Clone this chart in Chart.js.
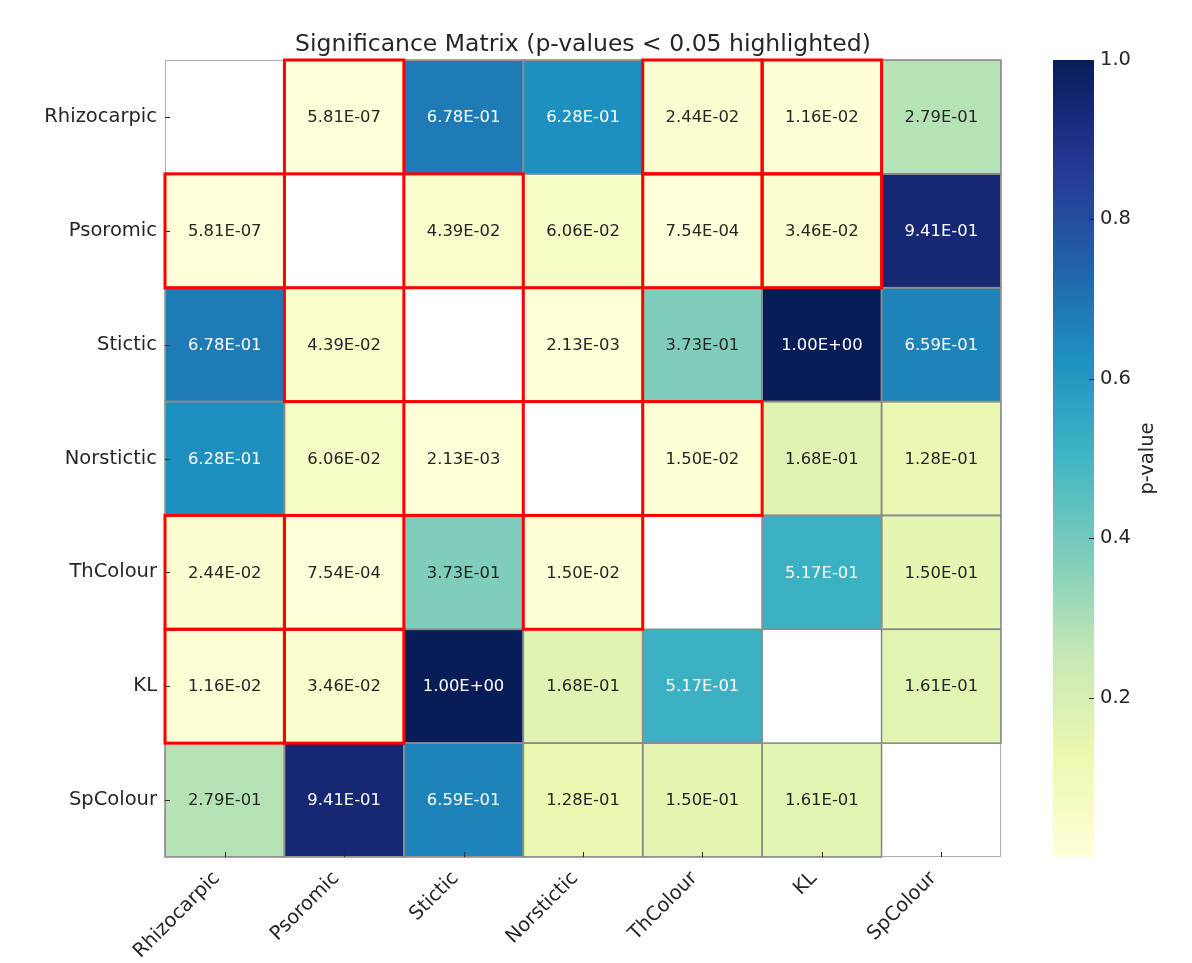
<!DOCTYPE html>
<html>
<head>
<meta charset="utf-8">
<script src="https://cdn.jsdelivr.net/npm/chart.js@4.4.1/dist/chart.umd.min.js"></script>
<style>
  html, body { margin: 0; padding: 0; background: #fff; }
  #wrap { position: relative; width: 1192px; height: 963px; }
  #heat { position: absolute; left: 0; top: 0; }
  #cbar { position: absolute; left: 1040px; top: 0; }
</style>
</head>
<body>
<div id="wrap">
  <canvas id="heat" width="1192" height="963"></canvas>
  <canvas id="cbar" width="152" height="963"></canvas>
</div>
<script>
// nama variabel / kategori
const labels = ["Rhizocarpic", "Psoromic", "Stictic", "Norstictic", "ThColour", "KL", "SpColour"];

// p-value tiap baris (null = diagonal, tidak digambar)
const pRhizocarpic = [null, 5.81e-7, 6.78e-1, 6.28e-1, 2.44e-2, 1.16e-2, 2.79e-1];
const pPsoromic    = [5.81e-7, null, 4.39e-2, 6.06e-2, 7.54e-4, 3.46e-2, 9.41e-1];
const pStictic     = [6.78e-1, 4.39e-2, null, 2.13e-3, 3.73e-1, 1.00e+0, 6.59e-1];
const pNorstictic  = [6.28e-1, 6.06e-2, 2.13e-3, null, 1.50e-2, 1.68e-1, 1.28e-1];
const pThColour    = [2.44e-2, 7.54e-4, 3.73e-1, 1.50e-2, null, 5.17e-1, 1.50e-1];
const pKL          = [1.16e-2, 3.46e-2, 1.00e+0, 1.68e-1, 5.17e-1, null, 1.61e-1];
const pSpColour    = [2.79e-1, 9.41e-1, 6.59e-1, 1.28e-1, 1.50e-1, 1.61e-1, null];

const matrix = [pRhizocarpic, pPsoromic, pStictic, pNorstictic, pThColour, pKL, pSpColour];

// tick colorbar
const cbTicks = [0.2, 0.4, 0.6, 0.8, 1.0];
const alpha = 0.05;
const titleText = "Significance Matrix (p-values < 0.05 highlighted)";

const FONT = "'DejaVu Sans', sans-serif";
const TEXT = "#262626";

// skala warna YlGnBu
const ylgnbu = ["#ffffd9", "#edf8b1", "#c7e9b4", "#7fcdbb", "#41b6c4", "#1d91c0", "#225ea8", "#253494", "#081d58"];

const allVals = matrix.flat().filter(v => v !== null);
const vmin = Math.min(...allVals);
const vmax = Math.max(...allVals);

const hexToRgb = (h) => [1, 3, 5].map(i => parseInt(h.substr(i, 2), 16));

const cmapRgb = (v) => {
  let t = (v - vmin) / (vmax - vmin);
  t = Math.max(0, Math.min(1, t));
  const pos = t * (ylgnbu.length - 1);
  const i = Math.min(Math.floor(pos), ylgnbu.length - 2);
  const f = pos - i;
  const a = hexToRgb(ylgnbu[i]), b = hexToRgb(ylgnbu[i + 1]);
  return a.map((c, k) => Math.round(c + (b[k] - c) * f));
};
const cmap = (v) => `rgb(${cmapRgb(v).join(",")})`;

// luminance untuk memilih warna teks
const luminance = (rgb) => {
  const lin = rgb.map(c => {
    c = c / 255;
    return c <= 0.03928 ? c / 12.92 : Math.pow((c + 0.055) / 1.055, 2.4);
  });
  return 0.2126 * lin[0] + 0.7152 * lin[1] + 0.0722 * lin[2];
};

const fmt = (v) => {
  const [m, e] = v.toExponential(2).split("e");
  const n = parseInt(e, 10);
  return m + "E" + (n < 0 ? "-" : "+") + String(Math.abs(n)).padStart(2, "0");
};

// satu dataset per baris, bar mengambang [r, r+1]
const datasets = matrix.map((row, r) => ({
  label: labels[r],
  data: row.map(v => (v === null ? null : [r, r + 1])),
  backgroundColor: row.map(v => (v === null ? "rgba(0,0,0,0)" : cmap(v))),
  borderWidth: 0,
  grouped: false,
  barPercentage: 1,
  categoryPercentage: 1,
}));

const heatDecor = {
  id: "heatDecor",
  afterDatasetsDraw(chart) {
    const ctx = chart.ctx;
    const area = chart.chartArea;
    const xs = chart.scales.x, ys = chart.scales.y;
    ctx.save();

    // bingkai luar
    ctx.strokeStyle = "#b0b0b0";
    ctx.lineWidth = 1;
    ctx.strokeRect(area.left + 0.5, area.top + 0.5, area.right - area.left - 1, area.bottom - area.top - 1);

    const cells = [];
    matrix.forEach((row, r) => {
      const meta = chart.getDatasetMeta(r);
      row.forEach((v, c) => {
        if (v === null) return;
        const el = meta.data[c];
        const p = el.getProps(["x", "y", "base", "width"], true);
        cells.push({
          v,
          left: p.x - p.width / 2,
          top: Math.min(p.y, p.base),
          w: p.width,
          h: Math.abs(p.base - p.y),
          cx: p.x,
          cy: (p.y + p.base) / 2,
        });
      });
    });

    // garis sel abu-abu
    ctx.strokeStyle = "#8c8c8c";
    ctx.lineWidth = 1.6;
    cells.forEach(c => ctx.strokeRect(c.left, c.top, c.w, c.h));

    // kotak merah untuk p < 0.05
    ctx.strokeStyle = "#ff0000";
    ctx.lineWidth = 3;
    cells.filter(c => c.v < alpha).forEach(c => {
      ctx.strokeRect(c.left, c.top, c.w, c.h);
    });

    // teks nilai
    ctx.font = `16.4px ${FONT}`;
    ctx.textAlign = "center";
    ctx.textBaseline = "middle";
    cells.forEach(c => {
      ctx.fillStyle = luminance(cmapRgb(c.v)) < 0.408 ? "#ffffff" : TEXT;
      ctx.fillText(fmt(c.v), c.cx, c.cy + 1);
    });

    // tick ke dalam
    ctx.strokeStyle = TEXT;
    ctx.lineWidth = 1;
    ctx.beginPath();
    labels.forEach((l, i) => {
      const px = Math.round(xs.getPixelForTick(i)) + 0.5;
      ctx.moveTo(px, area.bottom);
      ctx.lineTo(px, area.bottom - 5);
      const py = Math.round(ys.getPixelForValue(i + 0.5)) + 0.5;
      ctx.moveTo(area.left, py);
      ctx.lineTo(area.left + 5, py);
    });
    ctx.stroke();

    // judul
    ctx.fillStyle = TEXT;
    ctx.font = `23.5px ${FONT}`;
    ctx.textAlign = "center";
    ctx.textBaseline = "alphabetic";
    ctx.fillText(titleText, (area.left + area.right) / 2, 51);
    ctx.restore();
  },
};

new Chart(document.getElementById("heat"), {
  type: "bar",
  data: { labels: labels, datasets: datasets },
  options: {
    responsive: false,
    animation: false,
    layout: { padding: { left: 0, right: 191, top: 60, bottom: 0 } },
    plugins: {
      legend: { display: false },
      tooltip: { enabled: false },
    },
    scales: {
      x: {
        type: "category",
        grid: { display: false, drawTicks: false },
        border: { display: false },
        ticks: {
          autoSkip: false,
          minRotation: 45,
          maxRotation: 45,
          padding: 10,
          labelOffset: -8,
          color: TEXT,
          font: { family: FONT, size: 19.5 },
        },
        afterFit: (s) => { s.height = 106; },
      },
      y: {
        type: "linear",
        min: 0,
        max: 7,
        reverse: true,
        grid: { display: false, drawTicks: false },
        border: { display: false },
        afterBuildTicks: (s) => { s.ticks = labels.map((l, i) => ({ value: i + 0.5 })); },
        ticks: {
          autoSkip: false,
          padding: 8,
          color: TEXT,
          font: { family: FONT, size: 19.5 },
          callback: (v) => labels[Math.round(v - 0.5)],
        },
        afterFit: (s) => { s.width = 165; },
      },
    },
  },
  plugins: [heatDecor],
});

// colorbar
const cbarDecor = {
  id: "cbarDecor",
  afterDatasetsDraw(chart) {
    const ctx = chart.ctx;
    const area = chart.chartArea;
    const ys = chart.scales.y;
    ctx.save();
    ctx.strokeStyle = TEXT;
    ctx.lineWidth = 1;
    ctx.beginPath();
    cbTicks.forEach(v => {
      const py = Math.round(ys.getPixelForValue(v)) + 0.5;
      ctx.moveTo(area.right, py);
      ctx.lineTo(area.right - 5, py);
    });
    ctx.stroke();
    ctx.translate(108, (area.top + area.bottom) / 2);
    ctx.rotate(-Math.PI / 2);
    ctx.fillStyle = TEXT;
    ctx.font = `19.5px ${FONT}`;
    ctx.textAlign = "center";
    ctx.textBaseline = "middle";
    ctx.fillText("p-value", 0, 0);
    ctx.restore();
  },
};

new Chart(document.getElementById("cbar"), {
  type: "bar",
  data: {
    labels: [""],
    datasets: [{
      data: [[vmin, vmax]],
      backgroundColor: (c) => {
        const ch = c.chart;
        if (!ch.chartArea) return ylgnbu[0];
        const ys = ch.scales.y;
        const g = ch.ctx.createLinearGradient(0, ys.getPixelForValue(vmin), 0, ys.getPixelForValue(vmax));
        ylgnbu.forEach((col, i) => g.addColorStop(i / (ylgnbu.length - 1), col));
        return g;
      },
      borderWidth: 0,
      barPercentage: 1,
      categoryPercentage: 1,
    }],
  },
  options: {
    responsive: false,
    animation: false,
    layout: { padding: { left: 13, right: 0, top: 60, bottom: 106 } },
    plugins: {
      legend: { display: false },
      tooltip: { enabled: false },
    },
    scales: {
      x: { display: false },
      y: {
        position: "right",
        min: vmin,
        max: vmax,
        grid: { display: false, drawTicks: false },
        border: { display: false },
        afterBuildTicks: (s) => { s.ticks = cbTicks.map(v => ({ value: v })); },
        ticks: {
          padding: 6,
          color: TEXT,
          font: { family: FONT, size: 19.5 },
          callback: (v) => v.toFixed(1),
        },
        afterFit: (s) => { s.width = 98; },
      },
    },
  },
  plugins: [cbarDecor],
});
</script>
</body>
</html>
